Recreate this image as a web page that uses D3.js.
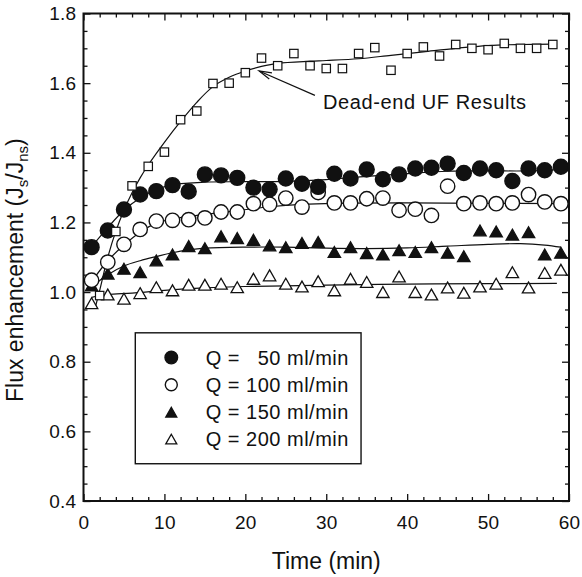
<!DOCTYPE html>
<html><head><meta charset="utf-8">
<script src="https://cdn.jsdelivr.net/npm/d3@7"></script>
<style>
html,body{margin:0;padding:0;background:#fff;}
svg text{font-family:"Liberation Sans",Arial,Helvetica,sans-serif;fill:#111;}
</style></head>
<body><svg id="c" width="582" height="577"></svg>
<script>
// ---- data ----
const timesOdd = [1,3,5,7,9,11,13,15,17,19,21,23,25,27,29,31,33,35,37,39,41,43,45,47,49,51,53,55,57,59];
const timesEven = [2,4,6,8,10,12,14,16,18,20,22,24,26,28,30,32,34,36,38,40,42,44,46,48,50,52,54,56,58];
const q50  = [1.129,1.177,1.237,1.28,1.29,1.307,1.289,1.338,1.335,1.328,1.30,1.295,1.326,1.311,1.302,1.34,1.326,1.352,1.324,1.338,1.355,1.357,1.369,1.342,1.355,1.35,1.319,1.355,1.35,1.36];
const q100 = [1.034,1.086,1.137,1.18,1.204,1.206,1.208,1.213,1.23,1.23,1.254,1.252,1.27,1.244,1.286,1.256,1.256,1.268,1.27,1.235,1.238,1.22,1.304,1.254,1.256,1.254,1.256,1.28,1.259,1.254];
const q150 = [1.019,1.053,1.067,1.057,1.091,1.108,1.132,1.126,1.16,1.155,1.15,1.134,1.129,1.141,1.144,1.115,1.129,1.112,1.108,1.12,1.115,1.129,1.113,1.103,1.177,1.174,1.165,1.172,1.108,1.113];
const q200 = [0.968,0.993,0.981,0.997,1.014,1.005,1.021,1.021,1.024,1.014,1.038,1.048,1.024,1.016,1.031,1.005,1.038,1.029,1.0,1.045,1.0,0.993,1.013,0.998,1.016,1.024,1.057,1.013,1.055,1.064];
const deadEnd = [0.99,1.174,1.305,1.361,1.402,1.495,1.52,1.599,1.60,1.63,1.672,1.65,1.685,1.65,1.642,1.642,1.685,1.702,1.637,1.685,1.704,1.678,1.711,1.70,1.696,1.714,1.70,1.70,1.711];

// fitted curves [time, value]
const fitDead = [[1.5,0.96],[2,1.005],[3,1.10],[4,1.175],[5,1.235],[6,1.285],[7,1.328],[8,1.365],[10,1.43],[12,1.49],[14,1.545],[16,1.59],[18,1.617],[20,1.635],[22,1.648],[24,1.657],[28,1.663],[30,1.665],[34,1.670],[38,1.68],[42,1.69],[46,1.70],[50,1.708],[54,1.711],[58,1.712]];
const fit50 = [[1,1.13],[3,1.185],[5,1.235],[7,1.27],[9,1.295],[11,1.308],[13,1.313],[15,1.316],[20,1.317],[25,1.318],[30,1.323],[35,1.332],[40,1.340],[45,1.347],[50,1.348],[55,1.348],[59,1.352]];
const fit100 = [[1,1.03],[3,1.09],[5,1.135],[7,1.172],[9,1.198],[11,1.21],[15,1.223],[19,1.234],[23,1.245],[27,1.252],[31,1.255],[40,1.256],[50,1.255],[59,1.254]];
const fit150 = [[1,1.015],[3,1.05],[5,1.075],[7,1.09],[9,1.102],[11,1.113],[13,1.121],[15,1.126],[20,1.129],[25,1.129],[30,1.126],[35,1.125],[40,1.127],[45,1.132],[50,1.137],[54,1.139],[57,1.135],[59,1.129]];
const fit200 = [[1,0.985],[3,0.993],[6,0.997],[10,1.005],[15,1.012],[20,1.016],[25,1.018],[30,1.02],[40,1.023],[50,1.024],[58.5,1.025]];

const xTicks = [0,10,20,30,40,50,60];
const yTicks = [0.4,0.6,0.8,1.0,1.2,1.4,1.6,1.8];
const legendLabels = ["50 ml/min","100 ml/min","150 ml/min","200 ml/min"];

// ---- layout ----
const svg = d3.select("#c");
const x = d3.scaleLinear().domain([0,60]).range([83.5,569]);
const y = d3.scaleLinear().domain([0.4,1.8]).range([501,13.5]);
const fmtY = d3.format(".1f");

const xMinor = d3.range(0,61,2).filter(v=>v%10!==0);
const yMinor = d3.range(0,29).map(i=>+(0.4+i*0.05).toFixed(2)).filter(v=>Math.abs(Math.round(v*5)-v*5)>1e-6);

function axisG(axis, tr){
  const g = svg.append("g").attr("transform",tr).call(axis);
  g.select(".domain").remove();
  g.selectAll("line").attr("stroke","#111").attr("stroke-width",1.3);
  g.selectAll("text").attr("font-size",19).attr("letter-spacing",0.3).attr("font-family","Liberation Sans, Arial, sans-serif").attr("fill","#111");
  return g;
}
const B = y.range()[0], T = y.range()[1], L = x.range()[0], R = x.range()[1];
axisG(d3.axisBottom(x).tickValues(xTicks).tickSize(-7).tickPadding(15).tickFormat(d3.format("d")), `translate(0,${B})`);
axisG(d3.axisBottom(x).tickValues(xMinor).tickSize(-4).tickFormat(""), `translate(0,${B})`);
axisG(d3.axisTop(x).tickValues(xTicks).tickSize(-7).tickFormat(""), `translate(0,${T})`);
axisG(d3.axisTop(x).tickValues(xMinor).tickSize(-4).tickFormat(""), `translate(0,${T})`);
axisG(d3.axisLeft(y).tickValues(yTicks).tickSize(-7).tickPadding(7).tickFormat(fmtY), `translate(${L},0)`);
axisG(d3.axisLeft(y).tickValues(yMinor).tickSize(-4).tickFormat(""), `translate(${L},0)`);
axisG(d3.axisRight(y).tickValues(yTicks).tickSize(-7).tickFormat(""), `translate(${R},0)`);
axisG(d3.axisRight(y).tickValues(yMinor).tickSize(-4).tickFormat(""), `translate(${R},0)`);

svg.append("rect").attr("x",L).attr("y",T).attr("width",R-L).attr("height",B-T)
  .attr("fill","none").attr("stroke","#111").attr("stroke-width",2);

// axis titles
svg.append("text").attr("x",x(30)).attr("y",569).attr("text-anchor","middle").attr("font-size",23).text("Time (min)");
const yl = svg.append("text").attr("transform","translate(23,402) rotate(-90)").attr("font-size",23);
yl.append("tspan").text("Flux enhancement (J");
yl.append("tspan").attr("font-size",15).attr("dy",5).text("s");
yl.append("tspan").attr("dy",-5).text("/J");
yl.append("tspan").attr("font-size",15).attr("dy",5).text("ns");
yl.append("tspan").attr("dy",-5).text(")");

// fitted curves
const line = d3.line().x(d=>x(d[0])).y(d=>y(d[1])).curve(d3.curveCatmullRom.alpha(0.5));
const plot = svg.append("g");
[fitDead,fit50,fit100,fit150,fit200].forEach(f=>{
  plot.append("path").attr("d",line(f)).attr("fill","none").attr("stroke","#111").attr("stroke-width",1.2);
});

// markers
function marker(g, kind, cx, cy, s){
  if(kind==="fc"||kind==="oc"){
    g.append("circle").attr("cx",cx).attr("cy",cy).attr("r",s)
      .attr("fill",kind==="fc"?"#111":"#fff").attr("stroke","#111").attr("stroke-width",1.4);
  } else if(kind==="ft"||kind==="ot"){
    const h=s*1.75, w=s*2.0;
    g.append("path").attr("d",`M${cx},${cy-h/2}L${cx+w/2},${cy+h/2}L${cx-w/2},${cy+h/2}Z`)
      .attr("fill",kind==="ft"?"#111":"#fff").attr("stroke","#111").attr("stroke-width",1.3).attr("stroke-linejoin","miter");
  } else {
    g.append("rect").attr("x",cx-s).attr("y",cy-s).attr("width",2*s).attr("height",2*s)
      .attr("fill","#fff").attr("stroke","#111").attr("stroke-width",1.2);
  }
}
const series = [
  {vals:q200, kind:"ot", s:6.2},
  {vals:q150, kind:"ft", s:6.2},
  {vals:q100, kind:"oc", s:7.2},
  {vals:q50,  kind:"fc", s:7.5}
];
series.forEach(sr=>{
  sr.vals.forEach((v,i)=>marker(plot, sr.kind, x(timesOdd[i]), y(v), sr.s));
});
deadEnd.forEach((v,i)=>marker(plot,"sq",x(timesEven[i]),y(v),4.2));

// annotation
svg.append("text").attr("x",x(29.6)).attr("y",y(1.525)).attr("font-size",20).attr("letter-spacing",0.6).text("Dead-end UF Results");
const tail=[x(28.6),y(1.565)], tip=[x(21.7),y(1.635)];
svg.append("line").attr("x1",tail[0]).attr("y1",tail[1]).attr("x2",tip[0]).attr("y2",tip[1]).attr("stroke","#111").attr("stroke-width",1.2);
const ang=Math.atan2(tail[1]-tip[1],tail[0]-tip[0]), al=13, aw=0.26;
svg.append("path").attr("d",`M${tip[0]+al*Math.cos(ang-aw)},${tip[1]+al*Math.sin(ang-aw)}L${tip[0]},${tip[1]}L${tip[0]+al*Math.cos(ang+aw)},${tip[1]+al*Math.sin(ang+aw)}`)
  .attr("fill","none").attr("stroke","#111").attr("stroke-width",1.2);

// legend
const lg = svg.append("g");
lg.append("rect").attr("x",x(6.4)).attr("y",y(0.883)).attr("width",x(34.3)-x(6.4)).attr("height",y(0.507)-y(0.883))
  .attr("fill","#fff").attr("stroke","#111").attr("stroke-width",1.4);
const rows=[0.812,0.734,0.655,0.578], kinds=["fc","oc","ft","ot"], sizes=[6.3,6,5.5,5.5];
rows.forEach((r,i)=>{
  marker(lg,kinds[i],x(10.85),y(r),sizes[i]);
  lg.append("text").attr("x",x(15.1)).attr("y",y(r)).attr("dy","0.35em").attr("font-size",20).attr("letter-spacing",0.5).text("Q =");
  lg.append("text").attr("x",x(32.8)).attr("y",y(r)).attr("dy","0.35em").attr("font-size",20).attr("letter-spacing",0.5).attr("text-anchor","end").text(legendLabels[i]);
});
</script></body></html>
